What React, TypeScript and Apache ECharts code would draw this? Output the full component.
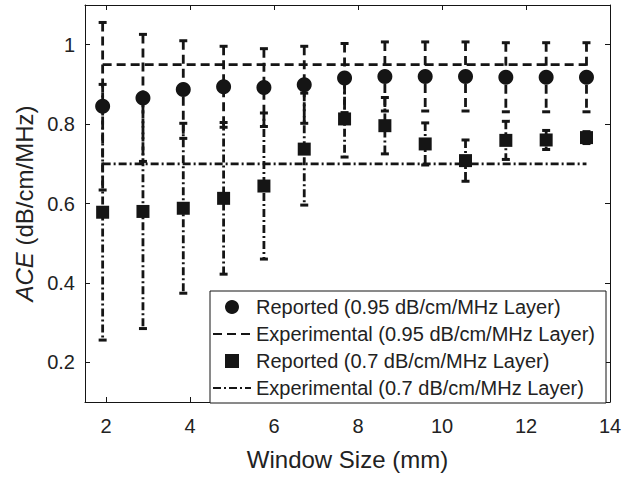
import React, { useEffect, useRef } from "react";
import * as echarts from "echarts";

// ---- data ----
const windowSizes = [1.92, 2.88, 3.84, 4.8, 5.76, 6.72, 7.68, 8.64, 9.6, 10.56, 11.52, 12.48, 13.44];
const reported095 = [0.845, 0.866, 0.887, 0.894, 0.892, 0.899, 0.916, 0.92, 0.92, 0.92, 0.918, 0.918, 0.918];
const error095 = [0.211, 0.16, 0.123, 0.102, 0.098, 0.097, 0.087, 0.087, 0.087, 0.087, 0.087, 0.087, 0.087];
const reported07 = [0.578, 0.58, 0.588, 0.613, 0.644, 0.737, 0.813, 0.796, 0.75, 0.708, 0.759, 0.76, 0.766];
const error07 = [0.322, 0.295, 0.214, 0.191, 0.184, 0.141, 0.096, 0.071, 0.053, 0.052, 0.048, 0.024, 0.015];
const experimental095 = 0.95;
const experimental07 = 0.7;
const xTicks = [2, 4, 6, 8, 10, 12, 14];
const yTicks = [0.2, 0.4, 0.6, 0.8, 1];
const legendNames = [
  "Reported (0.95 dB/cm/MHz Layer)",
  "Experimental (0.95 dB/cm/MHz Layer)",
  "Reported (0.7 dB/cm/MHz Layer)",
  "Experimental (0.7 dB/cm/MHz Layer)",
];

const INK = "#151515";
const FONT = "'Liberation Sans', Arial, Helvetica, sans-serif";
const DASH = [9, 5];
const DASHDOT = [8, 3, 2, 3];
const LW = 2.8;

function errorBarSeries(name: string, values: number[], errs: number[], dash: number[]) {
  return {
    type: "custom",
    name,
    xAxisIndex: 0,
    yAxisIndex: 0,
    encode: { x: 0, y: [1, 2] },
    data: windowSizes.map((x, i) => [x, values[i] - errs[i], values[i] + errs[i]]),
    renderItem: (params: any, api: any) => {
      const x = api.value(0);
      const top = api.coord([x, api.value(2)]);
      const bot = api.coord([x, api.value(1)]);
      const cap = 4;
      return {
        type: "group",
        children: [
          {
            type: "line",
            shape: { x1: top[0], y1: top[1], x2: bot[0], y2: bot[1] },
            style: { stroke: INK, lineWidth: LW, lineDash: dash },
          },
          {
            type: "line",
            shape: { x1: top[0] - cap, y1: top[1], x2: top[0] + cap, y2: top[1] },
            style: { stroke: INK, lineWidth: 3 },
          },
          {
            type: "line",
            shape: { x1: bot[0] - cap, y1: bot[1], x2: bot[0] + cap, y2: bot[1] },
            style: { stroke: INK, lineWidth: 3 },
          },
        ],
      };
    },
    z: 2,
  };
}

export default function App() {
  const ref = useRef<HTMLDivElement>(null);
  useEffect(() => {
    if (!ref.current) return;
    const chart = echarts.init(ref.current, null, { renderer: "svg" });
    const axisCommon = {
      axisLine: { show: true, onZero: false, lineStyle: { color: INK, width: 1 } },
      splitLine: { show: false },
    };
    chart.setOption({
      animation: false,
      backgroundColor: "#fff",
      textStyle: { fontFamily: FONT },
      grid: { left: 85, top: 5, right: 25, bottom: 75 },
      xAxis: [
        {
          type: "value",
          min: 1.5,
          max: 14,
          position: "bottom",
          ...axisCommon,
          axisTick: { show: true, inside: true, length: 5, customValues: xTicks, lineStyle: { color: INK } },
          axisLabel: { show: true, customValues: xTicks, margin: 14, fontSize: 20, color: "#222", fontFamily: FONT },
          name: "Window Size (mm)",
          nameLocation: "middle",
          nameGap: 45,
          nameTextStyle: { fontSize: 24, color: "#222", fontFamily: FONT },
        },
        {
          type: "value",
          min: 1.5,
          max: 14,
          position: "top",
          ...axisCommon,
          axisTick: { show: true, inside: true, length: 5, customValues: xTicks, lineStyle: { color: INK } },
          axisLabel: { show: false },
        },
      ],
      yAxis: [
        {
          type: "value",
          min: 0.1,
          max: 1.1,
          position: "left",
          ...axisCommon,
          axisTick: { show: true, inside: true, length: 5, customValues: yTicks, lineStyle: { color: INK } },
          axisLabel: {
            show: true,
            customValues: yTicks,
            margin: 10,
            fontSize: 20,
            color: "#222",
            fontFamily: FONT,
            formatter: (v: number) => String(Math.round(v * 10) / 10),
          },
          name: "{i|ACE} (dB/cm/MHz)",
          nameLocation: "middle",
          nameGap: 47,
          nameTextStyle: {
            fontSize: 24,
            color: "#222",
            fontFamily: FONT,
            rich: { i: { fontSize: 24, fontStyle: "italic", color: "#222", fontFamily: FONT } },
          },
        },
        {
          type: "value",
          min: 0.1,
          max: 1.1,
          position: "right",
          ...axisCommon,
          axisTick: { show: true, inside: true, length: 5, customValues: yTicks, lineStyle: { color: INK } },
          axisLabel: { show: false },
        },
      ],
      legend: {
        orient: "vertical",
        left: 210,
        top: 291,
        padding: [6, 11, 5, 2],
        itemWidth: 38,
        itemHeight: 14,
        itemGap: 7,
        borderColor: INK,
        borderWidth: 1,
        borderRadius: 0,
        backgroundColor: "#fff",
        z: 10,
        textStyle: { fontSize: 20, lineHeight: 20, color: "#222", fontFamily: FONT },
        data: [
          { name: legendNames[0], icon: "circle", itemStyle: { color: INK, opacity: 1 } },
          { name: legendNames[1], itemStyle: { color: "rgba(0,0,0,0)", opacity: 0, borderWidth: 0 } },
          { name: legendNames[2], icon: "path://M0,0L10,0L10,10L0,10Z", itemStyle: { color: INK, opacity: 1 } },
          { name: legendNames[3], itemStyle: { color: "rgba(0,0,0,0)", opacity: 0, borderWidth: 0 } },
        ],
      },
      series: [
        errorBarSeries("err095", reported095, error095, DASH),
        {
          type: "scatter",
          name: legendNames[0],
          data: windowSizes.map((x, i) => [x, reported095[i]]),
          symbol: "circle",
          symbolSize: 15,
          itemStyle: { color: INK, opacity: 1 },
          z: 3,
        },
        {
          type: "line",
          name: legendNames[1],
          data: windowSizes.map((x) => [x, experimental095]),
          symbol: "none",
          lineStyle: { color: INK, width: LW, type: DASH },
          itemStyle: { color: INK },
          z: 3,
        },
        errorBarSeries("err07", reported07, error07, DASHDOT),
        {
          type: "scatter",
          name: legendNames[2],
          data: windowSizes.map((x, i) => [x, reported07[i]]),
          symbol: "rect",
          symbolSize: 13,
          itemStyle: { color: INK, opacity: 1 },
          z: 3,
        },
        {
          type: "line",
          name: legendNames[3],
          data: windowSizes.map((x) => [x, experimental07]),
          symbol: "none",
          lineStyle: { color: INK, width: LW, type: DASHDOT },
          itemStyle: { color: INK },
          z: 3,
        },
      ],
    });
    return () => chart.dispose();
  }, []);
  return <div ref={ref} style={{ width: 635, height: 477, position: "absolute", left: 0, top: 0 }} />;
}
